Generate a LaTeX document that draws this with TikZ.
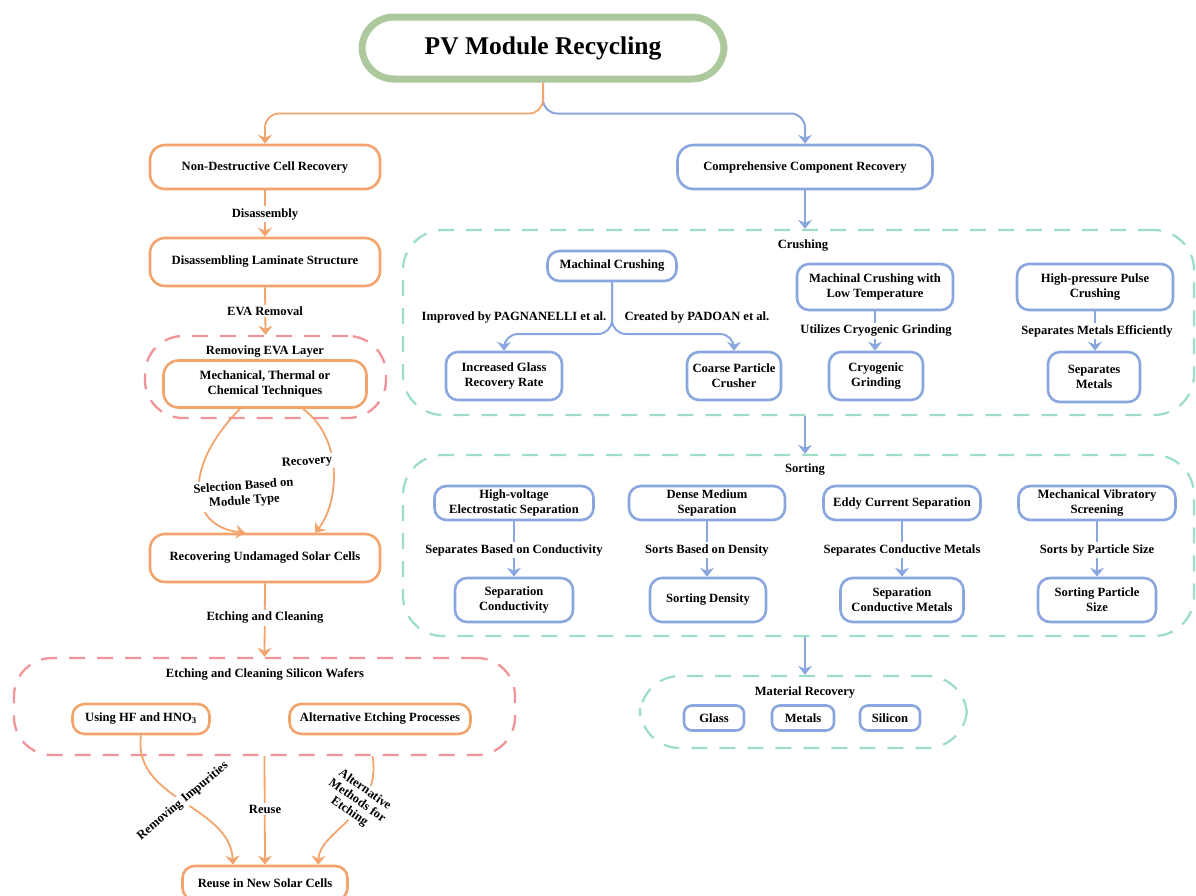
\documentclass[tikz,border=0pt]{standalone}
\usepackage{fontspec}
\setmainfont{Liberation Serif}
\usetikzlibrary{arrows.meta,positioning,calc}
\definecolor{org}{HTML}{F2A46C}
\definecolor{blu}{HTML}{8AA6DF}
\definecolor{tea}{HTML}{9EDDC8}
\definecolor{rdd}{HTML}{F0939A}
\definecolor{grn}{HTML}{AEC89E}
\tikzset{
  txt/.style={font=\fontsize{12.6}{15}\selectfont\bfseries, align=center, text=black},
  obox/.style={txt, draw=org, line width=2.6pt, rounded corners=15pt, fill=white, inner sep=2pt},
  bbox/.style={txt, draw=blu, line width=2.6pt, rounded corners=12pt, fill=white, inner sep=2pt},
  rgroup/.style={draw=rdd, line width=2.3pt, dash pattern=on 16pt off 12pt, rounded corners=38pt},
  tgroup/.style={draw=tea, line width=2.3pt, dash pattern=on 16pt off 12pt, rounded corners=40pt},
  oarr/.style={draw=org, line width=1.8pt, -{Stealth[length=9pt,width=14pt,inset=3pt]}},
  barr/.style={draw=blu, line width=2pt, -{Stealth[length=9pt,width=14pt,inset=3pt]}},
  elab/.style={txt, fill=white, inner sep=2pt},
  glab/.style={txt, inner sep=1pt},
}
\begin{document}
\begin{tikzpicture}[x=1pt,y=-1pt]
\useasboundingbox (0,0) rectangle (1196,895);
% title
\node[draw=grn, line width=7pt, rounded corners=32pt, fill=white, minimum width=362pt, minimum height=62pt,
  font=\fontsize{25.5}{30}\selectfont\bfseries] (title) at (543,48) {PV Module Recycling};
% groups
\node[rgroup, minimum width=241pt, minimum height=82pt] (evag) at (265.5,377) {};
\node[rgroup, minimum width=501pt, minimum height=97pt] (etchg) at (264.5,706.5) {};
\node[tgroup, minimum width=791pt, minimum height=185pt] (crushg) at (798.5,322.5) {};
\node[tgroup, minimum width=791pt, minimum height=181pt] (sortg) at (798.5,545.5) {};
\node[tgroup, minimum width=327pt, minimum height=72pt] (matg) at (803.5,712) {};
\node[glab] (evalab) at (265,352) {Removing EVA Layer};
\node[glab] (etchlab) at (265,674) {Etching and Cleaning Silicon Wafers};
\node[glab] (crushlab) at (803,246) {Crushing};
\node[glab] (sortlab) at (805,470) {Sorting};
\node[glab] (matlab) at (805,692) {Material Recovery};
% left column
\node[obox, minimum width=230pt, minimum height=44pt] (nd) at (265,167) {Non-Destructive Cell Recovery};
\node[obox, minimum width=230pt, minimum height=48pt] (dl) at (265,262) {Disassembling Laminate Structure};
\node[obox, minimum width=203pt, minimum height=47pt] (mech) at (265,384) {Mechanical, Thermal or\\Chemical Techniques};
\node[obox, minimum width=230pt, minimum height=48pt] (rec) at (265,558) {Recovering Undamaged Solar Cells};
\node[obox, rounded corners=12pt, minimum width=137pt, minimum height=30pt] (hf) at (141,719) {Using HF and HNO\textsubscript{3}};
\node[obox, rounded corners=12pt, minimum width=181pt, minimum height=30pt] (alt) at (380,719) {Alternative Etching Processes};
\node[obox, rounded corners=12pt, minimum width=165pt, minimum height=34pt] (reuse) at (265,883) {Reuse in New Solar Cells};
% right column
\node[bbox, rounded corners=16pt, minimum width=255pt, minimum height=44pt] (comp) at (805,167) {Comprehensive Component Recovery};
\node[bbox, minimum width=129pt, minimum height=30pt] (mc) at (612,266) {Machinal Crushing};
\node[bbox, minimum width=156pt, minimum height=46pt] (mclt) at (875,287) {Machinal Crushing with\\Low Temperature};
\node[bbox, minimum width=156pt, minimum height=46pt] (hp) at (1095,287) {High-pressure Pulse\\Crushing};
\node[bbox, minimum width=116pt, minimum height=48pt] (inc) at (504,376) {Increased Glass\\Recovery Rate};
\node[bbox, minimum width=94pt, minimum height=48pt] (coarse) at (734,376) {Coarse Particle\\Crusher};
\node[bbox, minimum width=94pt, minimum height=48pt] (cryo) at (876,376) {Cryogenic\\Grinding};
\node[bbox, minimum width=92pt, minimum height=50pt] (sepm) at (1094,377) {Separates\\Metals};
\node[bbox, minimum width=159pt, minimum height=34pt] (hv) at (514,503) {High-voltage\\Electrostatic Separation};
\node[bbox, minimum width=156pt, minimum height=34pt] (dm) at (707,503) {Dense Medium\\Separation};
\node[bbox, minimum width=157pt, minimum height=34pt] (ed) at (902,503) {Eddy Current Separation};
\node[bbox, minimum width=157pt, minimum height=34pt] (mv) at (1097,503) {Mechanical Vibratory\\Screening};
\node[bbox, minimum width=118pt, minimum height=44pt] (sc) at (514,600) {Separation\\Conductivity};
\node[bbox, minimum width=116pt, minimum height=44pt] (sd) at (708,600) {Sorting Density};
\node[bbox, minimum width=123pt, minimum height=44pt] (scm) at (902,600) {Separation\\Conductive Metals};
\node[bbox, minimum width=118pt, minimum height=44pt] (sps) at (1097,600) {Sorting Particle\\Size};
\node[bbox, rounded corners=8pt, minimum width=60pt, minimum height=25pt] (glass) at (714,718) {Glass};
\node[bbox, rounded corners=8pt, minimum width=62pt, minimum height=25pt] (metals) at (803,718) {Metals};
\node[bbox, rounded corners=8pt, minimum width=60pt, minimum height=25pt] (silicon) at (890,718) {Silicon};
% title split
\draw[barr, rounded corners=14pt] (title.south) -- ++(0,31) -| (comp.north);
\draw[oarr, rounded corners=14pt] (title.south) -- ++(0,31) -| (nd.north);
% left edges
\draw[oarr] (nd.south) -- (dl.north);
\node[elab] at (265,214) {Disassembly};
\draw[oarr] (dl.south) -- (evag.north);
\node[elab] at (265,311) {EVA Removal};
\draw[oarr] ([xshift=-25pt]mech.south) .. controls (180,470) and (190,527) .. ([xshift=-20pt]rec.north);
\node[elab, rotate=4] at (244,494) {Selection Based on\\Module Type};
\draw[oarr] ([xshift=38pt]mech.south) .. controls (345,440) and (338,505) .. ([xshift=50pt]rec.north);
\node[elab, rotate=4] at (307,462) {Recovery};
\draw[oarr] (rec.south) -- (etchg.north);
\node[elab] at (265,618) {Etching and Cleaning};
\draw[oarr] (hf.south) .. controls (132,800) and (230,805) .. ([xshift=-32pt]reuse.north);
\node[elab, rotate=40] at (183,801) {Removing Impurities};
\draw[oarr] (etchg.south) -- (reuse.north);
\node[elab] at (265,809) {Reuse};
\draw[oarr] ([xshift=108pt]etchg.south) .. controls (382,815) and (320,830) .. ([xshift=53pt]reuse.north);
\node[elab, rotate=-35, inner sep=1pt, font=\fontsize{12.6}{13.5}\selectfont\bfseries] at (357,801) {Alternative\\Methods for\\Etching};
% right edges
\draw[barr] (comp.south) -- (comp.south |- crushg.north);
\draw[barr, rounded corners=14pt] (mc.south) -- (612,334) -| (inc.north);
\draw[barr, rounded corners=14pt] (mc.south) -- (612,334) -| (coarse.north);
\node[elab, fill=none] at (514,317) {Improved by PAGNANELLI et al.};
\node[elab, fill=none] at (697,317) {Created by PADOAN et al.};
\draw[barr] (mclt.south) -- (cryo.north -| mclt.south);
\node[elab] at (876,331) {Utilizes Cryogenic Grinding};
\draw[barr] (hp.south) -- (sepm.north -| hp.south);
\node[elab] at (1097,331) {Separates Metals Efficiently};
\draw[barr] (crushg.south -| comp.south) -- (sortg.north -| comp.south);
\draw[barr] (hv.south) -- (sc.north);
\node[elab] at (514,550) {Separates Based on Conductivity};
\draw[barr] (dm.south) -- (sd.north -| dm.south);
\node[elab] at (707,550) {Sorts Based on Density};
\draw[barr] (ed.south) -- (scm.north);
\node[elab] at (902,550) {Separates Conductive Metals};
\draw[barr] (mv.south) -- (sps.north);
\node[elab] at (1097,550) {Sorts by Particle Size};
\draw[barr] (sortg.south -| comp.south) -- (matg.north -| comp.south);
\end{tikzpicture}
\end{document}
